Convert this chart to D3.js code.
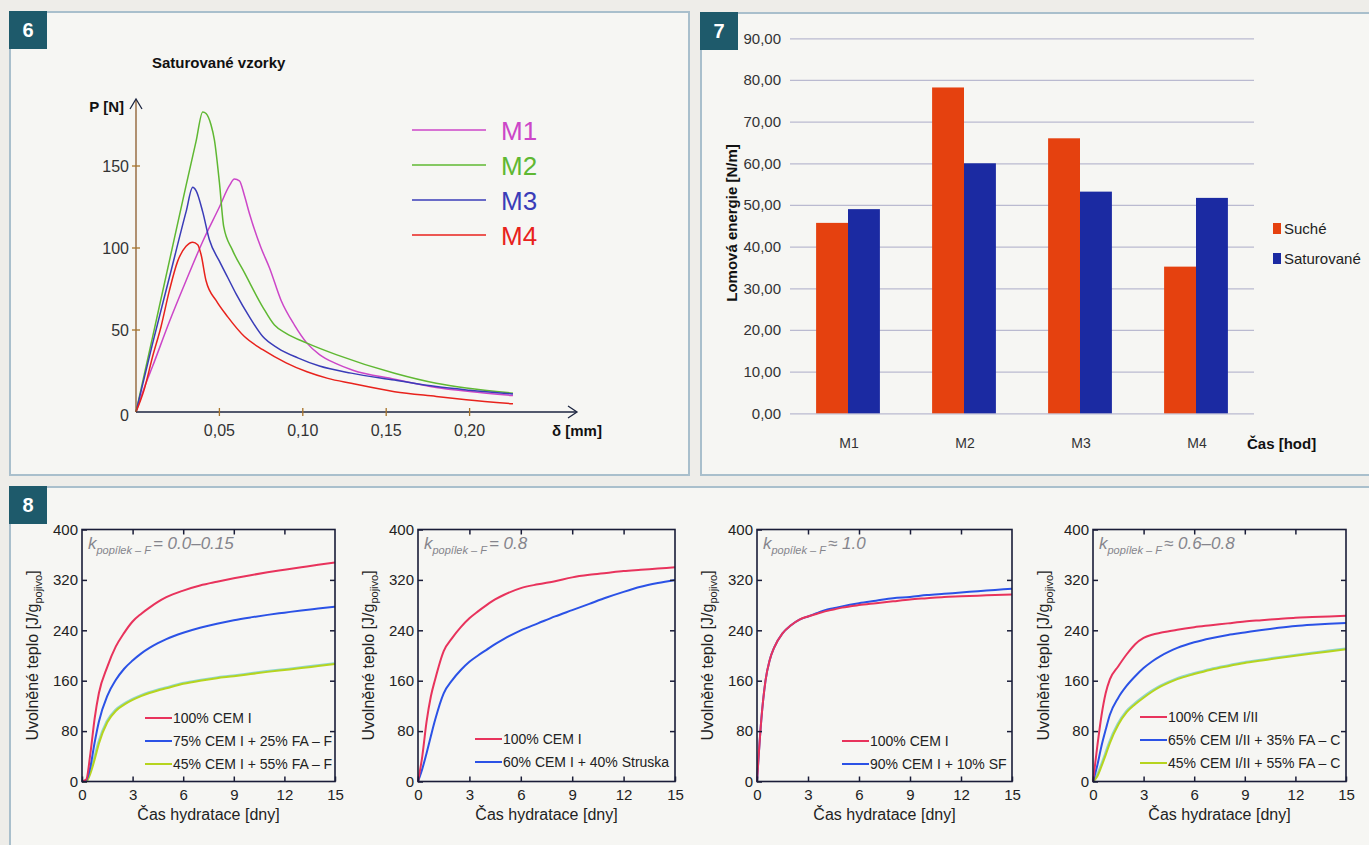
<!DOCTYPE html>
<html>
<head>
<meta charset="utf-8">
<script src="https://cdn.jsdelivr.net/npm/d3@7"></script>
<style>
  body { margin: 0; background: #eeede9; }
  text { font-family: "Liberation Sans", Arial, sans-serif; }
</style>
</head>
<body>
<svg id="page" width="1369" height="845"></svg>
<script>
// ---- figure 6: load vs. deflection, saturated samples ----
const loadSeries = ['M1', 'M2', 'M3', 'M4'];
const m1Curve = [[0,0],[0.005,15],[0.01,28],[0.02,55],[0.03,80],[0.04,104],[0.05,125],[0.056,138],[0.059,142],[0.062,141],
  [0.065,132],[0.068,121],[0.075,100],[0.08,88],[0.087,68],[0.095,53],[0.1025,42],[0.11,35],[0.12,29.5],[0.13,25.5],
  [0.155,20],[0.18,15],[0.2,12.5],[0.226,10]];
const m2Curve = [[0,0],[0.01,46],[0.02,92],[0.03,138],[0.036,165],[0.04,183],[0.042,182],[0.045,175],[0.047,166],[0.05,140],
  [0.0526,113],[0.0577,99],[0.065,85],[0.076,64],[0.083,53],[0.09,48],[0.1025,42],[0.12,35],[0.155,23.6],[0.18,17.5],
  [0.198,14.6],[0.226,11.5]];
const m3Curve = [[0,0],[0.01,42],[0.02,82],[0.03,122],[0.034,137],[0.036,135],[0.04,122],[0.044,105],[0.05,92],[0.055,82],
  [0.06,72],[0.068,58],[0.076,46],[0.085,39],[0.097,33],[0.11,28],[0.129,23.7],[0.155,19.5],[0.18,15.5],[0.2,13.3],[0.226,11]];
const m4Curve = [[0,0],[0.005,14],[0.01,34],[0.015,52],[0.02,74],[0.025,92],[0.03,101],[0.034,103.5],[0.037,102],[0.039,96],
  [0.042,80],[0.048,68],[0.055,58],[0.065,46],[0.076,38],[0.09,30],[0.1025,24.5],[0.115,20.5],[0.129,17.5],[0.155,12.4],
  [0.18,9.5],[0.198,7.5],[0.226,5]];
const loadTicksX = [0.05, 0.10, 0.15, 0.20];
const loadTicksY = [0, 50, 100, 150];

// ---- figure 7: fracture energy ----
const energyCategories = ['M1', 'M2', 'M3', 'M4'];
const energyGroups = ['Suché', 'Saturované'];
const sucheValues = [45.7, 78.2, 66.0, 35.2];
const saturovaneValues = [49.0, 60.0, 53.2, 51.7];
const energyTicks = [0, 10, 20, 30, 40, 50, 60, 70, 80, 90];

// ---- figure 8: released heat of hydration ----
const hydrationDays = [0,0.25,0.5,0.75,1,1.5,2,2.5,3,3.5,4,4.5,5,6,7,8,9,10,11,12,13,14,15];
const heatTicksX = [0, 3, 6, 9, 12, 15];
const heatTicksY = [0, 80, 160, 240, 320, 400];

const heatA_cem = [0,3,45,100,140,182,214,236,254,266,276,285,292.5,303,311,317,322.5,327.5,332,336,340,344,347.5];
const heatA_fa25 = [0,2,24,62,95,136,161,179,192,203,212,219.5,226,236,244,250.5,256,260.5,264.5,268,271.5,274.5,277.5];
const heatA_fa55 = [0,0,13,35,60,94,112,122,129.5,135.5,140.5,144.5,148,155,160,164,167,170.5,174,177,180,183.3,186.5];

const heatB_cem = [0,40,95,135,162,207,228,245,259,270,280,289,296,307,313,318,324,328,331,334,336,338,340];
const heatB_slag = [0,20,45,72,98,140,161,177,190,200,209,218,226,240,251,262,272,282,292,301,309,315,320];

const heatC_cem = [0,97,160,193,212,235,248,257,262,266,270,273,276,280,283,286,289,291,293,294,295,296,297];
const heatC_sf = [0,97,160,193,212,235,248,257,262,267,272,275,278,283,287,291,293,296,298,300,302,304,306];

const heatD_cem = [0,55,104,140,162,183,202,218,228,233,236,238.5,241,245,248,251,254,256,258,260,261,262,263];
const heatD_fa35 = [0,25,56,82,106,133,152,167,180,190.5,199,206,212,221,227.5,232.5,236.5,240.5,244,247,249,250.5,251.5];
const heatD_fa55 = [0,8,24,42,61,90,110,122.5,133,142.5,150.5,157,162.5,170.5,177.5,183,188,192,196,199.5,203,206.5,210];

const heatLabelsA = ['100% CEM I', '75% CEM I + 25% FA – F', '45% CEM I + 55% FA – F'];
const heatLabelsB = ['100% CEM I', '60% CEM I + 40% Struska'];
const heatLabelsC = ['100% CEM I', '90% CEM I + 10% SF'];
const heatLabelsD = ['100% CEM I/II', '65% CEM I/II + 35% FA – C', '45% CEM I/II + 55% FA – C'];
const kValues = ['= 0.0–0.15', '= 0.8', '≈ 1.0', '≈ 0.6–0.8'];

const RED = '#e8335c', BLUE = '#2b52e6', GREEN = '#b6d41e';
const NARROW = '"Liberation Sans Narrow", "Arial Narrow", "Liberation Sans", Arial, sans-serif';

const svg = d3.select('#page');
svg.append('rect').attr('width', 1369).attr('height', 845).attr('fill', '#eeede9');

// panel frames + number badges
function frame(x, y, w, h, num) {
  svg.append('rect').attr('x', x).attr('y', y).attr('width', w).attr('height', h)
    .attr('fill', '#f6f6f3').attr('stroke', '#a9bfcc').attr('stroke-width', 2);
  svg.append('rect').attr('x', x - 1).attr('y', y - 1).attr('width', 38).attr('height', 38).attr('fill', '#1e5a6b');
  svg.append('text').attr('x', x + 18).attr('y', y + 25).attr('text-anchor', 'middle')
    .style('font-size', '20px').style('font-weight', 'bold').attr('fill', '#fff').text(num);
}
frame(10, 12, 679, 463, '6');
frame(701, 13, 700, 462, '7');
frame(10, 487, 1400, 400, '8');

// ================= figure 6 =================
(function () {
  const x = d3.scaleLinear().domain([0, 0.2]).range([136, 469.6]);
  const y = d3.scaleLinear().domain([0, 150]).range([412, 166]);
  const colors = { M1: '#cc46c8', M2: '#5fb832', M3: '#3a3cb8', M4: '#e8221c' };
  const curves = { M1: m1Curve, M2: m2Curve, M3: m3Curve, M4: m4Curve };
  const g = svg.append('g');

  g.append('text').attr('x', 152).attr('y', 68).style('font-size', '15px').style('font-weight', 'bold')
    .attr('fill', '#111').text('Saturované vzorky');
  g.append('text').attr('x', 124).attr('y', 112).attr('text-anchor', 'end').style('font-size', '15px')
    .style('font-weight', 'bold').attr('fill', '#111').text('P [N]');
  g.append('text').attr('x', 552).attr('y', 436).style('font-size', '15px')
    .style('font-weight', 'bold').attr('fill', '#111').text('δ [mm]');

  const line = d3.line().x(d => x(d[0])).y(d => y(d[1])).curve(d3.curveMonotoneX);
  loadSeries.forEach(s => {
    g.append('path').datum(curves[s]).attr('d', line).attr('fill', 'none')
      .attr('stroke', colors[s]).attr('stroke-width', 1.5);
  });

  // axes with arrows
  const axisColor = '#1c2540';
  g.append('line').attr('x1', x(0)).attr('x2', 576).attr('y1', y(0)).attr('y2', y(0))
    .attr('stroke', axisColor).attr('stroke-width', 1.3);
  g.append('line').attr('x1', x(0)).attr('x2', x(0)).attr('y1', y(0)).attr('y2', 100)
    .attr('stroke', '#8a5a2a').attr('stroke-width', 1.3);
  g.append('path').attr('d', `M568,${y(0) - 6} L577,${y(0)} L568,${y(0) + 6}`)
    .attr('fill', 'none').attr('stroke', axisColor).attr('stroke-width', 1.3);
  g.append('path').attr('d', `M${x(0) - 6},109 L${x(0)},99 L${x(0) + 6},109`)
    .attr('fill', 'none').attr('stroke', axisColor).attr('stroke-width', 1.3);

  loadTicksX.forEach(t => {
    g.append('line').attr('x1', x(t)).attr('x2', x(t)).attr('y1', y(0) - 4).attr('y2', y(0) + 4)
      .attr('stroke', '#a8742a').attr('stroke-width', 1.3);
    g.append('text').attr('x', x(t)).attr('y', 436).attr('text-anchor', 'middle')
      .style('font-size', '16px').style('font-family', NARROW).attr('fill', '#333')
      .text(d3.format('.2f')(t).replace('.', ','));
  });
  loadTicksY.forEach(t => {
    if (t > 0) g.append('line').attr('x1', x(0) - 4).attr('x2', x(0) + 4).attr('y1', y(t)).attr('y2', y(t))
      .attr('stroke', '#a8742a').attr('stroke-width', 1.3);
    g.append('text').attr('x', 129).attr('y', y(t) + 6 + (t === 0 ? 3 : 0)).attr('text-anchor', 'end')
      .style('font-size', '16px').style('font-family', NARROW).attr('fill', '#333').text(t);
  });

  // legend
  loadSeries.forEach((s, i) => {
    const ly = 130 + i * 35;
    g.append('line').attr('x1', 412).attr('x2', 486).attr('y1', ly).attr('y2', ly)
      .attr('stroke', colors[s]).attr('stroke-width', 1.5);
    g.append('text').attr('x', 501).attr('y', ly + 10).style('font-size', '26px').style('font-family', NARROW)
      .attr('fill', colors[s]).text(s);
  });
})();

// ================= figure 7 =================
(function () {
  const x = d3.scaleBand().domain(energyCategories).range([790, 1254]).paddingInner(0.45).paddingOuter(0.225);
  const xs = d3.scaleBand().domain(energyGroups).range([0, x.bandwidth()]);
  const y = d3.scaleLinear().domain([0, 90]).range([413.3, 38.3]);
  const color = d3.scaleOrdinal().domain(energyGroups).range(['#e5410f', '#1b2aa2']);
  const czFmt = d3.formatLocale({ decimal: ',', thousands: ' ', grouping: [3], currency: ['', ''] }).format('.2f');
  const g = svg.append('g');

  const yAxis = d3.axisLeft(y).tickValues(energyTicks).tickSize(-(1254 - 790)).tickFormat(czFmt).tickPadding(9);
  g.append('g').attr('transform', 'translate(790,0)').call(yAxis)
    .call(a => a.select('.domain').remove())
    .call(a => a.selectAll('.tick line').attr('stroke', '#babad0').attr('stroke-width', 1.2))
    .call(a => a.selectAll('.tick text').attr('fill', '#333').style('font-size', '15px')
      .style('font-family', '"Liberation Sans", Arial, sans-serif'));

  const rows = energyCategories.map((c, i) => ({ c, v: [sucheValues[i], saturovaneValues[i]] }));
  const grp = g.selectAll('.cat').data(rows).join('g').attr('transform', d => `translate(${x(d.c)},0)`);
  grp.selectAll('rect').data(d => energyGroups.map((k, j) => ({ k, v: d.v[j] }))).join('rect')
    .attr('x', d => xs(d.k)).attr('width', xs.bandwidth())
    .attr('y', d => y(d.v)).attr('height', d => y(0) - y(d.v)).attr('fill', d => color(d.k));

  g.selectAll('.catlabel').data(energyCategories).join('text')
    .attr('x', d => x(d) + x.bandwidth() / 2 + 1).attr('y', 448).attr('text-anchor', 'middle')
    .style('font-size', '14px').attr('fill', '#333').text(d => d);
  g.append('text').attr('x', 1247).attr('y', 449).style('font-size', '15px').style('font-weight', 'bold')
    .attr('fill', '#111').text('Čas [hod]');
  g.append('text').attr('transform', 'translate(737,223) rotate(-90)').attr('text-anchor', 'middle')
    .style('font-size', '15px').style('font-weight', 'bold').attr('fill', '#111').text('Lomová energie [N/m]');

  energyGroups.forEach((k, i) => {
    const ly = 229 + i * 30;
    g.append('rect').attr('x', 1273).attr('y', ly - 6).attr('width', 8).attr('height', 11).attr('fill', color(k));
    g.append('text').attr('x', 1284).attr('y', ly + 5).style('font-size', '15px').attr('fill', '#222').text(k);
  });
})();

// ================= figure 8 =================
const heatPanels = [
  { left: 82, right: 335, series: [heatA_cem, heatA_fa25, heatA_fa55], labels: heatLabelsA,
    colors: [RED, BLUE, GREEN], k: kValues[0], legX: 145, legY: 718 },
  { left: 418, right: 675, series: [heatB_cem, heatB_slag], labels: heatLabelsB,
    colors: [RED, BLUE], k: kValues[1], legX: 475, legY: 739 },
  { left: 757, right: 1012, series: [heatC_cem, heatC_sf], labels: heatLabelsC,
    colors: [RED, BLUE], k: kValues[2], legX: 842, legY: 741 },
  { left: 1093, right: 1346, series: [heatD_cem, heatD_fa35, heatD_fa55], labels: heatLabelsD,
    colors: [RED, BLUE, GREEN], k: kValues[3], legX: 1140, legY: 717 }
];

heatPanels.forEach(p => {
  const top = 529.5, bottom = 781.5;
  const x = d3.scaleLinear().domain([0, 15]).range([p.left, p.right]);
  const y = d3.scaleLinear().domain([0, 400]).range([bottom, top]);
  const g = svg.append('g');
  const boxColor = '#1a1d38';

  const line = d3.line().x((d, i) => x(hydrationDays[i])).y(d => y(d)).curve(d3.curveMonotoneX);
  // draw last series first so red stays on top like the original
  p.series.slice().reverse().forEach((s, ri) => {
    const i = p.series.length - 1 - ri;
    if (p.colors[i] === GREEN) {
      g.append('path').datum(s).attr('d', line).attr('fill', 'none')
        .attr('stroke', '#8fd6d0').attr('stroke-width', 2).attr('transform', 'translate(-0.8,-0.8)');
    }
    g.append('path').datum(s).attr('d', line).attr('fill', 'none')
      .attr('stroke', p.colors[i]).attr('stroke-width', 2);
  });

  // box
  g.append('rect').attr('x', p.left).attr('y', top).attr('width', p.right - p.left).attr('height', bottom - top)
    .attr('fill', 'none').attr('stroke', boxColor).attr('stroke-width', 1.6);

  // inward ticks on all sides
  g.append('g').attr('transform', `translate(0,${bottom})`)
    .call(d3.axisBottom(x).tickValues(heatTicksX).tickSizeInner(-5).tickSizeOuter(0).tickPadding(8))
    .call(a => a.select('.domain').remove())
    .call(a => a.selectAll('.tick line').attr('stroke', boxColor).attr('stroke-width', 1.5))
    .call(a => a.selectAll('.tick text').attr('fill', '#222').style('font-size', '15px')
      .style('font-family', '"Liberation Sans", Arial, sans-serif'));
  g.append('g').attr('transform', `translate(0,${top})`)
    .call(d3.axisTop(x).tickValues(heatTicksX.slice(1, -1)).tickSizeInner(-5).tickSizeOuter(0).tickFormat(''))
    .call(a => a.select('.domain').remove())
    .call(a => a.selectAll('.tick line').attr('stroke', boxColor).attr('stroke-width', 1.5));
  g.append('g').attr('transform', `translate(${p.left},0)`)
    .call(d3.axisLeft(y).tickValues(heatTicksY).tickSizeInner(-5).tickSizeOuter(0).tickPadding(4))
    .call(a => a.select('.domain').remove())
    .call(a => a.selectAll('.tick line').attr('stroke', boxColor).attr('stroke-width', 1.5))
    .call(a => a.selectAll('.tick text').attr('fill', '#222').style('font-size', '15px')
      .style('font-family', '"Liberation Sans", Arial, sans-serif'));
  g.append('g').attr('transform', `translate(${p.right},0)`)
    .call(d3.axisRight(y).tickValues(heatTicksY.slice(1, -1)).tickSizeInner(-5).tickSizeOuter(0).tickFormat(''))
    .call(a => a.select('.domain').remove())
    .call(a => a.selectAll('.tick line').attr('stroke', boxColor).attr('stroke-width', 1.5));

  // axis titles
  g.append('text').attr('x', (p.left + p.right) / 2).attr('y', 820).attr('text-anchor', 'middle')
    .style('font-size', '16px').attr('fill', '#222').text('Čas hydratace [dny]');
  const yt = g.append('text').attr('transform', `translate(${p.left - 44},${(top + bottom) / 2}) rotate(-90)`)
    .attr('text-anchor', 'middle').style('font-size', '16px').attr('fill', '#222');
  yt.append('tspan').text('Uvolněné teplo [J/g');
  yt.append('tspan').attr('dy', 4).style('font-size', '11px').text('pojivo');
  yt.append('tspan').attr('dy', -4).text(']');

  // k annotation
  const kt = g.append('text').attr('x', p.left + 6).attr('y', top + 19)
    .style('font-size', '17px').style('font-style', 'italic').attr('fill', '#85858c');
  kt.append('tspan').text('k');
  kt.append('tspan').attr('dy', 5).style('font-size', '11px').text('popílek – F');
  kt.append('tspan').attr('dy', -5).attr('dx', 2).text(p.k);

  // legend
  p.labels.forEach((lab, i) => {
    const ly = p.legY + i * 23;
    g.append('line').attr('x1', p.legX).attr('x2', p.legX + 27).attr('y1', ly).attr('y2', ly)
      .attr('stroke', p.colors[i]).attr('stroke-width', 2);
    g.append('text').attr('x', p.legX + 28).attr('y', ly + 5).style('font-size', '14px')
      .attr('fill', '#222').text(lab);
  });
});
</script>
</body>
</html>
